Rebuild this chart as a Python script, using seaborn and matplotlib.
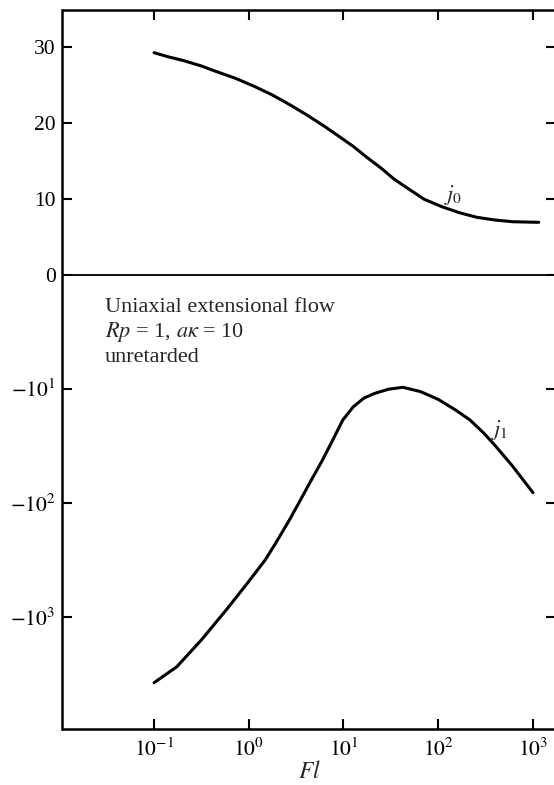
import numpy as np
import pandas as pd
import matplotlib
matplotlib.use("Agg")
import matplotlib.pyplot as plt
import seaborn as sns

# ---- data ----
fl_j0 = [0.10, 0.140, 0.206, 0.316, 0.446, 0.716, 1.15, 1.76, 2.71, 4.16, 6.38,
         9.02, 12.7, 17.9, 25.2, 34.1, 46.1, 70.8, 109, 167, 256, 394, 607, 1150]
j0 = [29.25, 28.72, 28.2, 27.5, 26.8, 25.9, 24.8, 23.7, 22.4, 21.0, 19.5,
      18.2, 16.9, 15.4, 14.0, 12.6, 11.5, 9.95, 8.96, 8.17, 7.56, 7.21, 6.98, 6.9]

fl_j1 = [0.10, 0.174, 0.316, 0.577, 0.966, 1.49, 1.92, 2.71, 3.51, 4.54, 5.87,
         7.57, 9.84, 12.7, 16.4, 21.3, 30.0, 42.3, 65.0, 99.8, 153, 216, 304,
         394, 607, 1000]
j1 = [-3793, -2748, -1600, -874, -509, -318, -227, -140, -94.7, -64, -43.7,
      -29, -18.8, -14.4, -12.1, -11.0, -10.1, -9.72, -10.6, -12.4, -15.4, -18.8,
      -24.6, -31.2, -47.6, -81.7]

x_ticks = [0.1, 1, 10, 100, 1000]
x_ticklabels = [r"$10^{-1}$", r"$10^{0}$", r"$10^{1}$", r"$10^{2}$", r"$10^{3}$"]
y_ticks = [30, 20, 10, 0, -10, -100, -1000]
y_ticklabels = ["30", "20", "10", "0", r"$-10^{1}$", r"$-10^{2}$", r"$-10^{3}$"]

annot_lines = ["Uniaxial extensional flow", r"$Rp$ = 1, $a\kappa$ = 10", "unretarded"]

# ---- style ----
sns.set_theme(style="ticks")
plt.rcParams["font.family"] = ["Liberation Serif", "DejaVu Serif"]
plt.rcParams["mathtext.fontset"] = "stix"
plt.rcParams["axes.linewidth"] = 1.8

df0 = pd.DataFrame({"Fl": fl_j0, "j": j0})
df1 = pd.DataFrame({"Fl": fl_j1, "j": j1})

fig = plt.figure(figsize=(5.54, 7.85), dpi=100)
ax = fig.add_axes([62.5 / 554, 56 / 785, (556 - 62.5) / 554, 719.5 / 785])

sns.lineplot(data=df0, x="Fl", y="j", ax=ax, color="black", linewidth=2.2,
             estimator=None, sort=False)
sns.lineplot(data=df1, x="Fl", y="j", ax=ax, color="black", linewidth=2.2,
             estimator=None, sort=False)

# linear above zero, negative log below zero
k = 75.9 / 114 / 10


def fwd(v):
    v = np.asarray(v, dtype=float)
    with np.errstate(all="ignore"):
        return np.where(v >= 0, v * k, -np.log10(np.maximum(-v, 1.0)))


def inv(t):
    t = np.asarray(t, dtype=float)
    with np.errstate(all="ignore"):
        return np.where(t >= 0, t / k, -np.power(10.0, -np.minimum(t, 0)))


ax.set_xscale("log")
ax.set_yscale("function", functions=(fwd, inv))
ax.set_xlim(10 ** -1.966, 10 ** 3.243)
ax.set_ylim(-9660, 34.94)

ax.set_xticks(x_ticks)
ax.set_xticklabels(x_ticklabels)
ax.set_yticks(y_ticks)
ax.set_yticklabels(y_ticklabels)
ax.xaxis.set_minor_locator(matplotlib.ticker.NullLocator())
ax.yaxis.set_minor_locator(matplotlib.ticker.NullLocator())

ax.tick_params(axis="both", which="major", direction="in", length=7, width=1.5,
               top=True, right=True, labelsize=15.5, colors="black")
ax.tick_params(axis="y", pad=5)
ax.tick_params(axis="x", pad=7)

ax.axhline(0, color="black", linewidth=1.3)

ax.set_xlabel(r"$Fl$", fontsize=17, labelpad=0)
ax.set_ylabel("")

ax.text(143, 10.5, r"$j_0$", fontsize=16, ha="center", va="center")
ax.text(449, -23, r"$j_1$", fontsize=16, ha="center", va="center")

for line, yb in zip(annot_lines, [-2.12, -3.52, -5.83]):
    ax.text(0.0304, yb, line, fontsize=16, ha="left", va="baseline")

for s in ax.spines.values():
    s.set_color("black")
    s.set_linewidth(1.8)

fig.savefig("out.png", dpi=100)
